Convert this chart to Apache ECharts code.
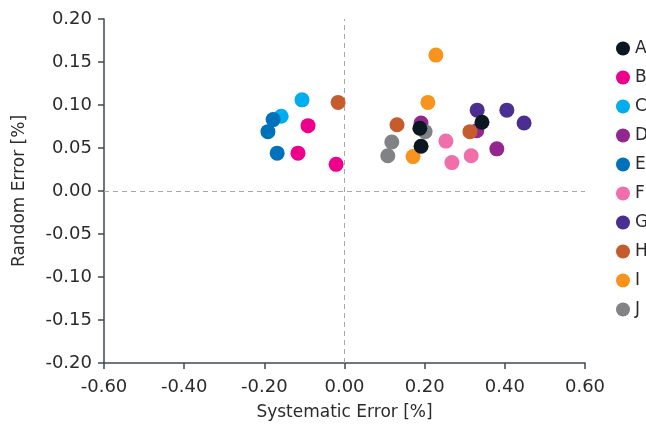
<!DOCTYPE html>
<html>
<head>
<meta charset="utf-8">
<script src="https://cdn.jsdelivr.net/npm/echarts@6/dist/echarts.min.js"></script>
<style>html,body{margin:0;padding:0;background:#fff}#c{width:646px;height:429px}</style>
</head>
<body>
<div id="c"></div>
<script>
var seriesNames = ['A','B','C','D','E','F','G','H','I','J'];
var seriesColors = ['#0b1821','#ec008c','#00aeef','#92278f','#0072bc','#f06eaa','#4b2e91','#c65b2e','#f7941d','#808285'];
var A = [[0.188,0.073],[0.343,0.080],[0.191,0.052]];
var B = [[-0.116,0.044],[-0.091,0.076],[-0.021,0.031]];
var C = [[-0.106,0.106],[-0.158,0.087]];
var D = [[0.191,0.079],[0.330,0.070],[0.380,0.049]];
var E = [[-0.178,0.083],[-0.191,0.069],[-0.168,0.044]];
var F = [[0.253,0.058],[0.268,0.033],[0.316,0.041]];
var G = [[0.331,0.094],[0.405,0.094],[0.448,0.079]];
var H = [[-0.016,0.103],[0.131,0.077],[0.313,0.069]];
var I = [[0.228,0.158],[0.208,0.103],[0.171,0.040]];
var J = [[0.108,0.041],[0.118,0.057],[0.201,0.069]];
var seriesData = [A,B,C,D,E,F,G,H,I,J];

var font = 'DejaVu Sans';
var axisColor = '#3d4a55';
var textColor = '#2b2b2b';

var series = seriesNames.map(function(n, i){
  var s = {
    name: n, type: 'scatter', data: seriesData[i], symbolSize: 15,
    itemStyle: {color: seriesColors[i], opacity: 1},
    z: i === 0 ? 5 : 3
  };
  if (i === 0) {
    s.markLine = {
      silent: true, symbol: 'none', animation: false,
      lineStyle: {color: '#a8a8a8', type: [5,4], width: 1},
      label: {show: false},
      data: [{xAxis: 0}, {yAxis: 0}],
      z: 1
    };
  }
  return s;
});

var chart = echarts.init(document.getElementById('c'));
chart.setOption({
  animation: false,
  textStyle: {fontFamily: font},
  grid: {left: 104, right: 61, top: 19, bottom: 66},
  legend: {
    orient: 'vertical', left: 611, top: 35, itemWidth: 14, itemHeight: 14, itemGap: 12,
    icon: 'circle', data: seriesNames,
    textStyle: {fontFamily: font, fontSize: 17, color: textColor}
  },
  xAxis: {
    type: 'value', min: -0.6, max: 0.6, interval: 0.2,
    name: 'Systematic Error [%]', nameLocation: 'middle', nameGap: 41,
    nameTextStyle: {fontFamily: font, fontSize: 17, color: textColor},
    axisLine: {show: true, onZero: false, lineStyle: {color: axisColor, width: 1.5}},
    axisTick: {show: true, length: 6, lineStyle: {color: axisColor, width: 1.5}},
    axisLabel: {fontFamily: font, fontSize: 18, color: textColor, margin: 15,
      formatter: function(v){ return v.toFixed(2); }},
    splitLine: {show: false}
  },
  yAxis: {
    type: 'value', min: -0.2, max: 0.2, interval: 0.05,
    name: 'Random Error [%]', nameLocation: 'middle', nameGap: 76,
    nameTextStyle: {fontFamily: font, fontSize: 17, color: textColor},
    axisLine: {show: true, onZero: false, lineStyle: {color: axisColor, width: 1.5}},
    axisTick: {show: true, length: 6, lineStyle: {color: axisColor, width: 1.5}},
    axisLabel: {fontFamily: font, fontSize: 18, color: textColor, margin: 12,
      formatter: function(v){ return v.toFixed(2); }},
    splitLine: {show: false}
  },
  series: series
});
</script>
</body>
</html>
